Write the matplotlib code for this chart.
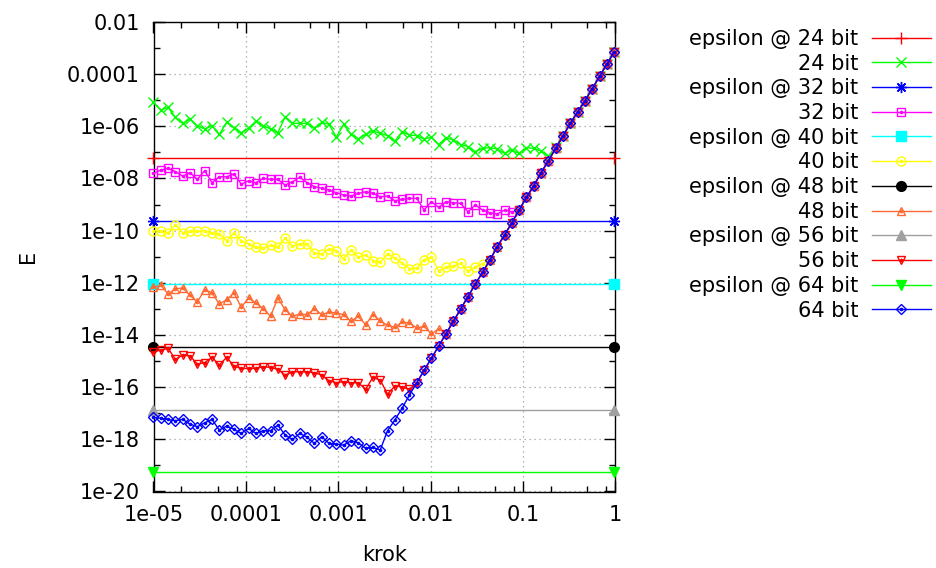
import matplotlib
matplotlib.use("Agg")
import matplotlib.pyplot as plt
from matplotlib.legend_handler import HandlerTuple
from matplotlib.ticker import FixedLocator, FixedFormatter, NullFormatter

plt.rcParams['font.family'] = ['DejaVu Sans']
plt.rcParams['font.size'] = 15

# integration step sizes (krok)
steps = [
    1.000e-05, 1.200e-05, 1.440e-05, 1.728e-05, 2.074e-05, 2.488e-05, 2.986e-05, 3.583e-05,
    4.300e-05, 5.160e-05, 6.192e-05, 7.430e-05, 8.916e-05, 1.070e-04, 1.284e-04, 1.541e-04,
    1.849e-04, 2.219e-04, 2.662e-04, 3.195e-04, 3.834e-04, 4.601e-04, 5.521e-04, 6.625e-04,
    7.950e-04, 9.540e-04, 1.145e-03, 1.374e-03, 1.648e-03, 1.978e-03, 2.374e-03, 2.849e-03,
    3.418e-03, 4.102e-03, 4.922e-03, 5.907e-03, 7.088e-03, 8.506e-03, 1.021e-02, 1.225e-02,
    1.470e-02, 1.764e-02, 2.116e-02, 2.540e-02, 3.048e-02, 3.657e-02, 4.389e-02, 5.266e-02,
    6.320e-02, 7.584e-02, 9.100e-02, 1.092e-01, 1.310e-01, 1.573e-01, 1.887e-01, 2.264e-01,
    2.717e-01, 3.261e-01, 3.913e-01, 4.696e-01, 5.635e-01, 6.762e-01, 8.114e-01, 9.737e-01,
]

# truncation-dominated error, common to every precision (steps[32:] onwards)
tail = [
    2.14e-18, 5.5e-18, 1.58e-17, 5.0e-17, 1.48e-16, 4.4e-16, 1.29e-15, 3.8e-15,
    1.12e-14, 3.3e-14, 1.0e-13, 2.93e-13, 9.0e-13, 2.53e-12, 7.5e-12, 2.42e-11,
    6.8e-11, 2.02e-10, 6.2e-10, 1.90e-09, 5.3e-09, 1.67e-08, 4.8e-08, 1.44e-07,
    4.3e-07, 1.31e-06, 3.6e-06, 9.6e-06, 2.8e-05, 8.3e-05, 2.45e-04, 7.2e-04,
]
TAIL_START = 32

# rounding-dominated error for small steps, per mantissa width
err24_head = [
    8.3e-06, 4.2e-06, 5.3e-06, 2.2e-06, 1.3e-06, 1.9e-06, 1.06e-06, 7.9e-07, 1.06e-06, 4.9e-07,
    1.42e-06, 8.9e-07, 5.7e-07, 8.4e-07, 1.6e-06, 1.06e-06, 7.9e-07, 5.7e-07, 2.3e-06, 1.3e-06,
    1.3e-06, 1.3e-06, 8.4e-07, 1.42e-06, 1.19e-06, 3.8e-07, 1.19e-06, 4.9e-07, 3.3e-07, 4.9e-07,
    6.6e-07, 5.4e-07, 4.4e-07, 2.7e-07, 6.2e-07, 4.6e-07, 4.4e-07, 3.3e-07, 3.8e-07, 2.0e-07,
    3.7e-07, 3.0e-07, 2.0e-07, 1.66e-07, 1.07e-07, 1.43e-07, 1.52e-07, 1.35e-07, 9.2e-08, 1.24e-07,
    9.2e-08, 1.52e-07, 1.43e-07, 1.13e-07, 7.3e-08, 1.6e-07,
]
err32_head = [
    1.57e-08, 2.11e-08, 2.45e-08, 1.82e-08, 1.24e-08, 1.67e-08, 9.3e-09, 2.0e-08, 6.9e-09, 1.17e-08,
    1.17e-08, 1.49e-08, 6.1e-09, 8.2e-09, 6.9e-09, 1.01e-08, 9.3e-09, 9.3e-09, 5.6e-09, 7.5e-09,
    1.11e-08, 6.9e-09, 4.9e-09, 4.2e-09, 3.6e-09, 2.86e-09, 2.33e-09, 2.13e-09, 2.69e-09, 3.1e-09,
    2.69e-09, 2.01e-09, 2.13e-09, 1.41e-09, 1.58e-09, 1.73e-09, 1.73e-09, 6.2e-10, 1.29e-09, 7.8e-10,
    1.29e-09, 1.18e-09, 1.11e-09, 5.3e-10, 9.6e-10, 6.2e-10, 4.9e-10, 4.3e-10, 6.2e-10, 5.3e-10,
]
err40_head = [
    1.0e-10, 9.4e-11, 8.1e-11, 1.69e-10, 8.1e-11, 9.4e-11, 9.4e-11, 1.0e-10, 8.1e-11, 7.4e-11,
    4.1e-11, 8.1e-11, 4.1e-11, 3.1e-11, 2.29e-11, 2.16e-11, 2.73e-11, 2.29e-11, 5.2e-11, 2.5e-11,
    3.1e-11, 3.1e-11, 1.39e-11, 1.27e-11, 2.04e-11, 1.71e-11, 8.4e-12, 1.86e-11, 9.5e-12, 1.2e-11,
    7.1e-12, 6.1e-12, 1.27e-11, 8.9e-12, 5.7e-12, 3.5e-12, 3.7e-12, 7.7e-12, 9.5e-12, 2.92e-12,
    3.9e-12, 4.3e-12, 5.7e-12, 2.75e-12, 4.1e-12, 5.5e-12,
]
err48_head = [
    6.7e-13, 8.0e-13, 3.72e-13, 5.96e-13, 6.3e-13, 3.31e-13, 1.84e-13, 5.5e-13, 4.1e-13, 1.54e-13,
    2.25e-13, 4.1e-13, 1.15e-13, 2.61e-13, 1.68e-13, 1.02e-13, 5.2e-14, 2.61e-13, 9.3e-14, 5.2e-14,
    6.4e-14, 6.0e-14, 1.02e-13, 6.0e-14, 7.6e-14, 6.95e-14, 6.0e-14, 3.33e-14, 5.2e-14, 2.48e-14,
    6.0e-14, 3.53e-14, 2.34e-14, 1.96e-14, 3.14e-14, 2.88e-14, 1.85e-14, 2.14e-14, 1.09e-14, 1.74e-14,
]
err56_head = [
    2.29e-15, 2.65e-15, 3.07e-15, 1.16e-15, 1.71e-15, 1.56e-15, 7.7e-16, 8.7e-16, 1.39e-15, 7.1e-16,
    1.39e-15, 6.5e-16, 5.2e-16, 5.2e-16, 5.2e-16, 6.1e-16, 5.7e-16, 4.8e-16, 2.92e-16, 3.9e-16,
    3.9e-16, 3.9e-16, 3.6e-16, 2.92e-16, 1.77e-16, 1.48e-16, 1.62e-16, 1.48e-16, 1.48e-16, 8.2e-17,
    2.37e-16, 1.87e-16, 5.4e-17, 1.10e-16, 1.04e-16, 8.2e-17,
]
err64_head = [
    6.9e-18, 6.4e-18, 5.8e-18, 5.2e-18, 5.8e-18, 3.85e-18, 3.05e-18, 4.3e-18, 5.8e-18, 2.27e-18,
    3.23e-18, 2.4e-18, 1.69e-18, 2.63e-18, 1.69e-18, 2.14e-18, 2.14e-18, 3.53e-18, 1.46e-18, 9.95e-19,
    1.69e-18, 1.19e-18, 7.0e-19, 1.26e-18, 7.0e-19, 6.6e-19, 6.0e-19, 8.85e-19, 7.4e-19, 4.5e-19,
    4.9e-19, 3.9e-19,
]

bits = [24, 32, 40, 48, 56, 64]
epsilons = [5.96e-08, 2.33e-10, 9.09e-13, 3.55e-15, 1.39e-17, 5.42e-20]
heads = [err24_head, err32_head, err40_head, err48_head, err56_head, err64_head]

x_ticks = [1e-05, 1e-04, 1e-03, 1e-02, 1e-01, 1]
x_tick_labels = ["1e-05", "0.0001", "0.001", "0.01", "0.1", "1"]
y_ticks = [1e-20, 1e-18, 1e-16, 1e-14, 1e-12, 1e-10, 1e-08, 1e-06, 1e-04, 1e-02]
y_tick_labels = ["1e-20", "1e-18", "1e-16", "1e-14", "1e-12", "1e-10",
                 "1e-08", "1e-06", "0.0001", "0.01"]

# styles: (color, marker) for epsilon lines, (color, marker, open?, size) for error curves
eps_styles = [("#ff0000", "+"), ("#0000ff", (8, 2, 0)), ("#00ffff", "s"),
              ("#000000", "o"), ("#a0a0a0", "^"), ("#00ff00", "v")]
err_styles = [("#00ff00", "x", False, 6.5), ("#ff00ff", "s", True, 6.0),
              ("#ffff00", "o", True, 6.5), ("#ff6a33", "^", True, 6.0),
              ("#ff0000", "v", True, 6.0), ("#0000ff", "D", True, 5.5)]

W, H = 936, 568
fig = plt.figure(figsize=(W / 100, H / 100), dpi=100)
L, R, T, B = 153.5, 615.3, 22.0, 491.5
ax = fig.add_axes([L / W, 1 - B / H, (R - L) / W, (B - T) / H])
ax.set_xscale("log")
ax.set_yscale("log")
ax.set_xlim(1e-05, 1)
ax.set_ylim(1e-20, 1e-02)

handles, labels = [], []
for i, b in enumerate(bits):
    ec, em = eps_styles[i]
    filled = em not in ("+", (8, 2, 0))
    h_eps, = ax.plot([steps[0], steps[-1]], [epsilons[i], epsilons[i]], color=ec, lw=1.0,
                     marker=em, ms=7 if filled else 8, mfc=ec, mec=ec, mew=1.0,
                     clip_on=False, zorder=3)
    handles.append(h_eps)
    labels.append(f"epsilon @ {b} bit")

    c, m, is_open, size = err_styles[i]
    y = heads[i] + tail[len(heads[i]) - TAIL_START:]
    h_err, = ax.plot(steps, y, color=c, lw=1.0, marker=m, ms=size,
                     mfc="none", mec=c, mew=1.0, clip_on=False, zorder=3)
    if is_open:
        h_dot, = ax.plot(steps, y, ls="none", marker="o", ms=1.6, color=c,
                         clip_on=False, zorder=3)
        handles.append((h_err, h_dot))
    else:
        handles.append(h_err)
    labels.append(f"{b} bit")

ax.xaxis.set_major_locator(FixedLocator(x_ticks))
ax.xaxis.set_major_formatter(FixedFormatter(x_tick_labels))
x_minor = [d * f for d in [1e-05, 1e-04, 1e-03, 1e-02, 1e-01] for f in (2, 5, 8)]
ax.xaxis.set_minor_locator(FixedLocator(x_minor))
ax.xaxis.set_minor_formatter(NullFormatter())
ax.yaxis.set_major_locator(FixedLocator(y_ticks))
ax.yaxis.set_major_formatter(FixedFormatter(y_tick_labels))
y_minor = [10.0 ** e for e in range(-19, -2, 2)]
ax.yaxis.set_minor_locator(FixedLocator(y_minor))
ax.yaxis.set_minor_formatter(NullFormatter())

ax.tick_params(which="both", direction="in", top=True, right=True, width=1.0, color="black")
ax.tick_params(which="major", length=8, pad=10, labelsize=15)
ax.tick_params(which="minor", length=4.5)
for sp in ax.spines.values():
    sp.set_linewidth(1.0)
    sp.set_color("black")

ax.grid(True, which="major", color="#a0a0a0", lw=0.9, linestyle=(0, (1, 3)))
ax.set_axisbelow(True)

ax.set_xlabel("krok", fontsize=15)
ax.set_ylabel("E", fontsize=15)
ax.xaxis.set_label_coords(0.5, -0.115)
ax.yaxis.set_label_coords(-0.25, 0.5)

fig.legend(handles, labels, loc="upper right", bbox_to_anchor=(931 / W, 1 - 29 / H),
           frameon=False, markerfirst=False, handlelength=2.85, handletextpad=0.65,
           labelspacing=0.225, borderpad=0, borderaxespad=0, fontsize=15,
           handler_map={tuple: HandlerTuple(ndivide=1)})

fig.savefig("out.png", dpi=100)
